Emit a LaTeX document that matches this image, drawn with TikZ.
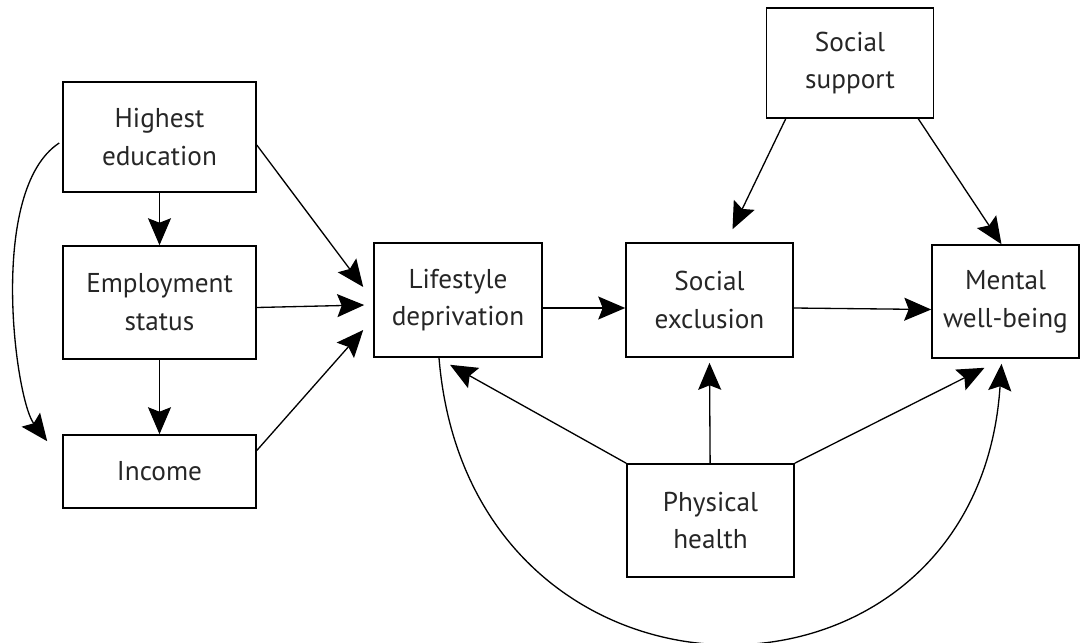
\documentclass[tikz,border=0pt]{standalone}
\usepackage{fontspec}
\setmainfont{PT Sans}
\usetikzlibrary{arrows.meta}

\tikzset{
    box/.style = {draw, line width = 0.9pt, align = center, inner sep = 0pt,
        minimum width = 3.34cm, minimum height = 2.26cm},
    wide/.style = {minimum width = 3.86cm},
    link/.style = {line width = 0.75pt, -{Stealth[length = 5.4mm, width = 4.6mm, inset = 0.9mm]}}
}

\begin{document}
\begin{tikzpicture}[x = 0.02cm, y = -0.02cm, font = \fontsize{15.5}{21.5}\selectfont, text = black!85]
        \useasboundingbox (0,0) rectangle (1083,643);

        \node [box, wide, minimum height = 2.2cm] (edu) at (159.5,137) {Highest\\education};
        \node [box, wide] (emp) at (159.5,302.5) {Employment\\status};
        \node [box, wide, minimum height = 1.46cm] (inc) at (159.5,471.5) {Income};
        \node [box, minimum width = 3.36cm, minimum height = 2.28cm] (life) at (458,300) {Lifestyle\\deprivation};
        \node [box, minimum height = 2.28cm] (excl) at (709.5,300) {Social\\exclusion};
        \node [box, minimum width = 2.94cm] (mental) at (1005.5,301.5) {Mental\\well-being};
        \node [box, minimum height = 2.2cm] (support) at (850,63) {Social\\support};
        \node [box] (health) at (710.5,520.5) {Physical\\health};

        \draw [link] (edu) -- (emp);
        \draw [link] (emp) -- (inc);
        \draw [link] ([shift = {(-3,6)}]edu.west) .. controls +(-72,47) and +(-32,-42) .. ([shift = {(-15,7)}]inc.north west);

        \draw [link] ([shift = {(0,8)}]edu.east) -- ([shift = {(-10,-13)}]life.west);
        \draw [link] ([shift = {(0,5)}]emp.east) -- ([shift = {(-9,5)}]life.west);
        \draw [link] ([shift = {(0,-21)}]inc.east) -- ([shift = {(-10,30)}]life.west);

        \draw [link] ([shift = {(0,8)}]life.east) -- ([shift = {(0,8)}]excl.west);
        \draw [link] ([shift = {(0,8)}]excl.east) -- ([shift = {(0,8)}]mental.west);

        \draw [link] ([shift = {(20,0)}]support.south west) -- ([shift = {(23,-13)}]excl.north);
        \draw [link] ([shift = {(-16,0)}]support.south east) -- ([shift = {(-4,0)}]mental.north);

        \draw [link] (health.north west) -- ([shift = {(-8,7)}]life.south);
        \draw [link] (health) -- ([shift = {(0,5)}]excl.south);
        \draw [link] (health.north east) -- ([shift = {(-21,9)}]mental.south);
        \draw [link] ([shift = {(-19,0)}]life.south) .. controls +(31,378) and +(-24,372) .. ([shift = {(-4,5)}]mental.south);
    \end{tikzpicture}
\end{document}
